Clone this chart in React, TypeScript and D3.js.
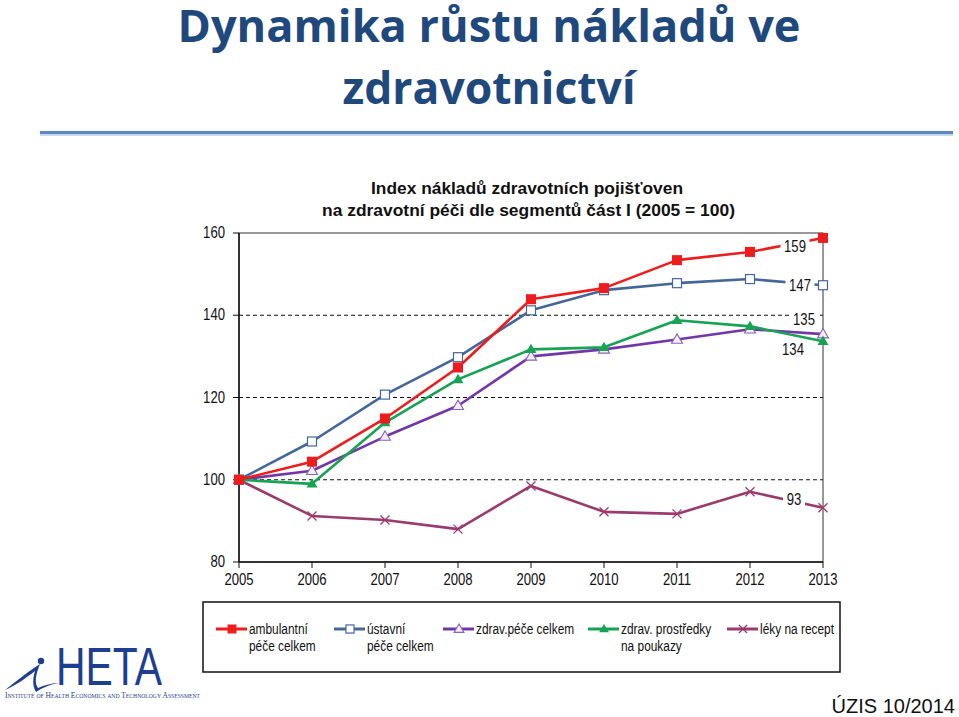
import React from 'react';
import * as d3 from 'd3';

const years = [2005, 2006, 2007, 2008, 2009, 2010, 2011, 2012, 2013];
const ambulantni = [100, 104.4, 114.9, 127.3, 143.9, 146.6, 153.4, 155.4, 158.8];
const ustavni = [100, 109.3, 120.7, 129.8, 141.2, 146.1, 147.8, 148.8, 147.3];
const zdravPece = [100, 102.2, 110.5, 118.0, 130.0, 131.7, 134.1, 136.6, 135.4];
const zdravProstredky = [100, 99.0, 113.9, 124.4, 131.7, 132.2, 138.8, 137.3, 133.7];
const leky = [100, 91.2, 90.2, 88.0, 98.5, 92.2, 91.7, 97.1, 93.2];
const yTicks = [80, 100, 120, 140, 160];
const gridValues = [100, 120, 140];
const endLabels = ['159', '147', '135', '134', '93'];

const W = 959;
const H = 717;
const sans = '"Liberation Sans", Arial, sans-serif';
const NARROW = 0.82; // stand-in for Arial Narrow

const series = [
  { key: 'amb', name: ['ambulantní', 'péče celkem'], values: ambulantni, color: '#ee1c1c', marker: 'squareFill' },
  { key: 'ust', name: ['ústavní', 'péče celkem'], values: ustavni, color: '#44679a', marker: 'squareOpen' },
  { key: 'zp', name: ['zdrav.péče celkem'], values: zdravPece, color: '#7336a8', marker: 'triOpen' },
  { key: 'zpr', name: ['zdrav. prostředky', 'na poukazy'], values: zdravProstredky, color: '#17a353', marker: 'triFill' },
  { key: 'lek', name: ['léky na recept'], values: leky, color: '#9b3a6e', marker: 'cross' },
];

// label placement (pixel offsets from the 2013 point of the series)
const labelPos = [
  { s: 0, dx: -28, dy: 8 },
  { s: 1, dx: -23, dy: 0 },
  { s: 2, dx: -19, dy: -15 },
  { s: 3, dx: -30, dy: 8 },
  { s: 4, dx: -29, dy: -9 },
];

const legendX = [216, 334, 443, 588, 727];

function NText({ x, y, anchor = 'start', size = 15, children }: any) {
  return (
    <text
      transform={`translate(${x},${y}) scale(${NARROW},1)`}
      textAnchor={anchor}
      fontFamily={sans}
      fontSize={size}
      fill="#111"
    >
      {children}
    </text>
  );
}

function Marker({ type, x, y, color, size = 1 }: any) {
  if (type === 'squareFill') {
    const s = 10 * size;
    return <rect x={x - s / 2} y={y - s / 2} width={s} height={s} fill={color} />;
  }
  if (type === 'squareOpen') {
    const s = 9 * size;
    return <rect x={x - s / 2} y={y - s / 2} width={s} height={s} fill="#fff" stroke={color} strokeWidth={1.2} />;
  }
  if (type === 'triOpen' || type === 'triFill') {
    const s = 11 * size;
    const h = s * 0.85;
    const p = `M${x},${y - h * 0.6} L${x + s / 2},${y + h * 0.4} L${x - s / 2},${y + h * 0.4} Z`;
    return type === 'triFill' ? (
      <path d={p} fill={color} />
    ) : (
      <path d={p} fill="#f3eef8" stroke="#8a62b8" strokeWidth={1.1} />
    );
  }
  const r = 4.5 * size;
  return (
    <path
      d={`M${x - r},${y - r} L${x + r},${y + r} M${x - r},${y + r} L${x + r},${y - r}`}
      stroke={color}
      strokeWidth={1.3}
    />
  );
}

export default function App() {
  const x = d3.scaleLinear().domain([2005, 2013]).range([239, 823]);
  const y = d3.scaleLinear().domain([80, 160]).range([562, 233]);
  const line = d3
    .line<number>()
    .x((_, i) => x(years[i]))
    .y((d) => y(d));

  return (
    <svg width={W} height={H} style={{ position: 'absolute', left: 0, top: 0, background: '#fff' }}>
      {/* slide title */}
      <g fill="#1f497d" fontFamily='"Open Sans", "Noto Sans", sans-serif' fontWeight={700} textAnchor="middle">
        <text x={489} y={42} fontSize={45} textLength={623} lengthAdjust="spacingAndGlyphs">
          Dynamika růstu nákladů ve
        </text>
        <text x={489} y={104} fontSize={45} textLength={293} lengthAdjust="spacingAndGlyphs">
          zdravotnictví
        </text>
      </g>
      <line x1={40} x2={953} y1={132.5} y2={132.5} stroke="#5b87c4" strokeWidth={3} />
      <line x1={40} x2={953} y1={135} y2={135} stroke="#c9d8ec" strokeWidth={2} />

      {/* chart title */}
      <g fontFamily={sans} fontWeight={700} fontSize={17} fill="#111" textAnchor="middle">
        <text x={527} y={194} textLength={312} lengthAdjust="spacingAndGlyphs">
          Index nákladů zdravotních pojišťoven
        </text>
        <text x={528.5} y={216} textLength={413} lengthAdjust="spacingAndGlyphs">
          na zdravotní péči dle segmentů část I (2005 = 100)
        </text>
      </g>

      {/* grid */}
      {gridValues.map((v) => (
        <line key={v} x1={x(2005)} x2={x(2013)} y1={y(v)} y2={y(v)} stroke="#111" strokeWidth={1} strokeDasharray="4,3" />
      ))}
      {/* frame */}
      <rect x={x(2005)} y={y(160)} width={x(2013) - x(2005)} height={y(80) - y(160)} fill="none" stroke="#333" strokeWidth={1} />
      <line x1={x(2005)} x2={x(2005)} y1={y(160)} y2={y(80)} stroke="#111" strokeWidth={1.5} />
      <line x1={x(2005)} x2={x(2013)} y1={y(80)} y2={y(80)} stroke="#111" strokeWidth={1.5} />

      {/* y axis */}
      {yTicks.map((t) => (
        <g key={t}>
          <line x1={x(2005) - 6} x2={x(2005)} y1={y(t)} y2={y(t)} stroke="#111" strokeWidth={1} />
          <NText x={x(2005) - 14} y={y(t) + 5} anchor="end" size={16}>
            {t}
          </NText>
        </g>
      ))}
      {/* x axis */}
      {years.map((yr) => (
        <g key={yr}>
          <line x1={x(yr)} x2={x(yr)} y1={y(80)} y2={y(80) + 6} stroke="#111" strokeWidth={1} />
          <NText x={x(yr)} y={y(80) + 23} anchor="middle" size={16}>
            {yr}
          </NText>
        </g>
      ))}

      {/* lines */}
      {[4, 2, 3, 1, 0].map((si) => {
        const s = series[si];
        return (
          <g key={s.key}>
            <path d={line(s.values) || ''} fill="none" stroke={s.color} strokeWidth={2.6} strokeLinejoin="round" />
            {s.values.map((v, i) => (
              <Marker key={i} type={s.marker} x={x(years[i])} y={y(v)} color={s.color} />
            ))}
          </g>
        );
      })}

      {/* end labels */}
      {labelPos.map((lp, i) => {
        const s = series[lp.s];
        const cx = x(2013) + lp.dx;
        const cy = y(s.values[8]) + lp.dy;
        const w = endLabels[i].length * 7 + 8;
        return (
          <g key={i}>
            <rect x={cx - w / 2} y={cy - 9} width={w} height={18} fill="#fff" />
            <NText x={cx} y={cy + 6} anchor="middle" size={16}>
              {endLabels[i]}
            </NText>
          </g>
        );
      })}

      {/* legend */}
      <rect x={203} y={602} width={637} height={70} fill="#fff" stroke="#111" strokeWidth={1.5} />
      {series.map((s, i) => {
        const lx = legendX[i];
        return (
          <g key={s.key}>
            <line x1={lx} x2={lx + 31} y1={629} y2={629} stroke={s.color} strokeWidth={3} />
            <Marker type={s.marker} x={lx + 16} y={629} color={s.color} size={0.9} />
            {s.name.map((n, j) => (
              <NText key={j} x={lx + 33} y={634 + j * 17} size={14.5}>
                {n}
              </NText>
            ))}
          </g>
        );
      })}

      {/* HETA logo */}
      <g fill="#1e3f8f">
        <path d="M5,690 C18,680 30,670 40,664 C36,674 34,682 38,688 C44,685 52,683 60,683 C50,684 42,688 36,692 C32,686 33,677 35,671 C26,678 15,686 5,690 Z" />
        <circle cx={41} cy={661} r={3.2} />
        <text x={56} y={685} fontFamily={sans} fontSize={54} textLength={106} lengthAdjust="spacingAndGlyphs">
          HETA
        </text>
      </g>
      <text
        x={5}
        y={698}
        fontFamily='"Liberation Serif", serif'
        fontSize={8}
        fill="#1e3f8f"
        textLength={195}
        lengthAdjust="spacingAndGlyphs"
        style={{ fontVariant: 'small-caps' }}
      >
        Institute of Health Economics and Technology Assessment
      </text>

      {/* source */}
      <text x={955} y={713} textAnchor="end" fontFamily={sans} fontSize={20} fill="#111">
        ÚZIS 10/2014
      </text>
    </svg>
  );
}
